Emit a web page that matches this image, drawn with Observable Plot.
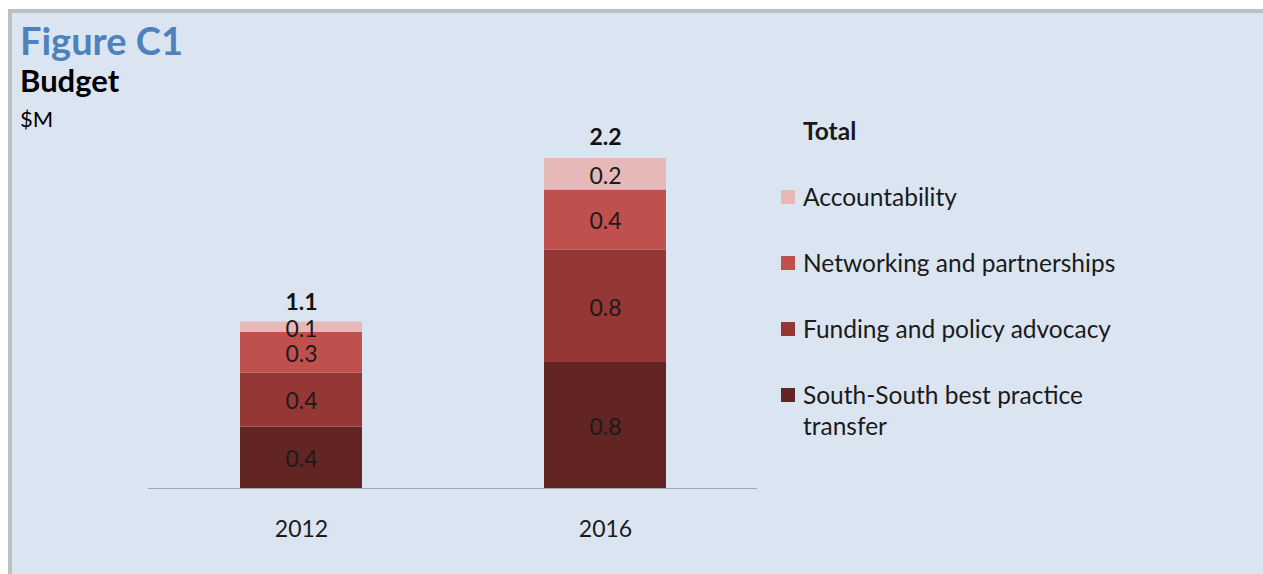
<!DOCTYPE html>
<html><head><meta charset="utf-8">
<script src="https://cdn.jsdelivr.net/npm/d3@7"></script>
<script src="https://cdn.jsdelivr.net/npm/@observablehq/plot@0.6"></script>
<style>
body{margin:0;width:1263px;height:574px;overflow:hidden;background:#fff;font-family:Lato,"Open Sans",sans-serif;position:relative}
#panel{position:absolute;left:8px;top:9px;width:1255px;height:565px;box-sizing:border-box;background:#dbe5f1;border-top:4px solid #bfbfbf;border-left:4px solid #bfbfbf}
#fig{position:absolute;left:20px;top:21px;font-size:38px;font-weight:bold;color:#4f81bd;line-height:1;white-space:nowrap}
#sub{position:absolute;left:20px;top:65px;font-size:31px;font-weight:bold;color:#000;line-height:1;white-space:nowrap}
#unit{position:absolute;left:20px;top:108px;font-size:22px;color:#000;line-height:1;white-space:nowrap}
#chart{position:absolute;left:0;top:0}
#legend{position:absolute;left:781px;top:0;font-size:24.5px;color:#1a1a1a}
.ttl{position:absolute;left:22px;top:115px;font-weight:bold;white-space:nowrap;line-height:31px}
.item{position:absolute;left:0;white-space:nowrap;line-height:31px}
.sw{position:absolute;left:0;top:9px;width:14px;height:14px}
.lab{position:absolute;left:22px;top:0}
</style>
</head><body>
<div id="panel"></div>
<div id="fig">Figure C1</div>
<div id="sub">Budget</div>
<div id="unit">$M</div>
<div id="chart"></div>
<div id="legend"></div>
<script>
const years = ["2012", "2016"];
const categories = ["South-South best practice transfer", "Funding and policy advocacy", "Networking and partnerships", "Accountability"];
const values2012 = [0.41, 0.36, 0.27, 0.07];
const values2016 = [0.84, 0.75, 0.40, 0.21];
const totals = [1.1, 2.2];
const colors = ["#632523", "#953735", "#c0504d", "#e6b9b8"];

const data = [];
categories.forEach((c, i) => {
  data.push({year: years[0], cat: c, value: values2012[i]});
  data.push({year: years[1], cat: c, value: values2016[i]});
});
const totalData = years.map((y, i) => ({year: y, total: totals[i]}));
const fmt = d3.format(".1f");

const plot = Plot.plot({
  width: 1263,
  height: 574,
  marginLeft: 148,
  marginRight: 506,
  marginTop: 158,
  marginBottom: 86,
  style: {background: "transparent", fontFamily: "Lato, 'Open Sans', sans-serif", overflow: "visible"},
  x: {domain: years, paddingInner: 0.6, paddingOuter: 0.3, label: null},
  y: {domain: [0, 2.2], axis: null},
  color: {domain: categories, range: colors},
  marks: [
    Plot.barY(data, {x: "year", y: "value", fill: "cat", order: categories}),
    Plot.ruleY([0], {stroke: "#a6a6a6", strokeWidth: 1.2}),
    Plot.text(data, Plot.stackY({x: "year", y: "value", z: "cat", order: categories, text: d => fmt(d.value), fontSize: 23, dy: 2, fill: "#1b1b1b"})),
    Plot.text(totalData, {x: "year", y: "total", text: d => fmt(d.total), dy: -21, fontSize: 23, fontWeight: "bold", fill: "#111"}),
    Plot.axisX({tickSize: 0, tickPadding: 32, fontSize: 23, color: "#1b1b1b", label: null})
  ]
});
document.getElementById("chart").appendChild(plot);

const legend = document.getElementById("legend");
const t = document.createElement("div");
t.className = "ttl"; t.textContent = "Total";
legend.appendChild(t);
const tops = [181, 247, 313, 379];
categories.slice().reverse().forEach((c, i) => {
  const ci = categories.length - 1 - i;
  const it = document.createElement("div");
  it.className = "item";
  it.style.top = tops[i] + "px";
  const sw = document.createElement("div");
  sw.className = "sw"; sw.style.background = colors[ci];
  const lab = document.createElement("div");
  lab.className = "lab";
  lab.innerHTML = c === "South-South best practice transfer" ? "South-South best practice<br>transfer" : c;
  it.appendChild(sw); it.appendChild(lab);
  legend.appendChild(it);
});
</script>
</body></html>
